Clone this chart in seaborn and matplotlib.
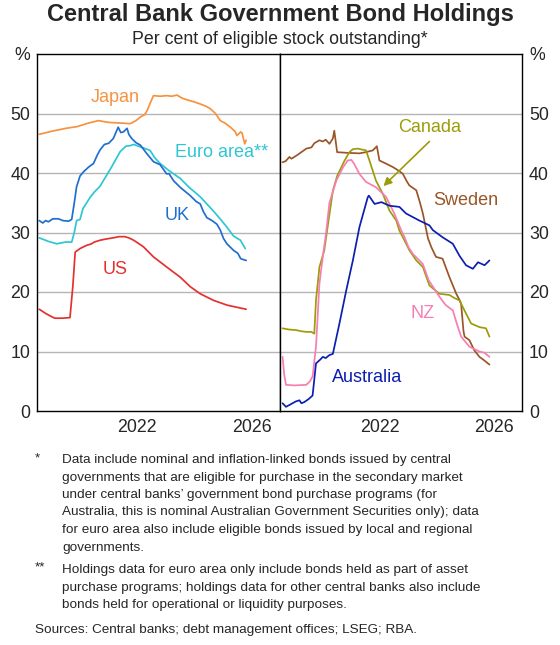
import matplotlib
matplotlib.use("Agg")
import matplotlib.pyplot as plt
import pandas as pd
import seaborn as sns

sns.set_theme(style="white")
plt.rcParams['font.family'] = ['Liberation Sans', 'DejaVu Sans']

# ---- data (per cent of eligible stock) ----
japan_x = [2019.08, 2019.5, 2020.0, 2020.4, 2020.8, 2021.14, 2021.5, 2021.9, 2022.25, 2022.45,
           2022.6, 2022.75, 2022.84, 2022.95, 2023.06, 2023.3, 2023.52, 2023.7, 2023.88, 2024.05,
           2024.22, 2024.45, 2024.69, 2024.9, 2025.04, 2025.22, 2025.39, 2025.55, 2025.74, 2025.9,
           2025.97, 2026.1, 2026.15, 2026.24, 2026.29]
japan_y = [46.5, 47.0, 47.5, 47.8, 48.4, 48.8, 48.5, 48.4, 48.3, 48.8,
           49.4, 49.8, 50.5, 51.8, 53.0, 52.9, 53.0, 52.9, 53.1, 52.6,
           52.3, 52.0, 51.6, 51.2, 50.8, 50.0, 48.8, 48.4, 47.7, 47.0,
           46.3, 46.9, 46.7, 44.9, 45.5]

uk_x = [2019.08, 2019.2, 2019.3, 2019.4, 2019.55, 2019.75, 2019.9, 2020.1, 2020.21, 2020.3,
        2020.38, 2020.5, 2020.62, 2020.8, 2020.97, 2021.1, 2021.2, 2021.35, 2021.5, 2021.66,
        2021.83, 2021.92, 2022.01, 2022.14, 2022.2, 2022.3, 2022.45, 2022.6, 2022.82, 2023.06,
        2023.29, 2023.52, 2023.6, 2023.76, 2023.99, 2024.34, 2024.55, 2024.69, 2024.8, 2024.92,
        2025.1, 2025.27, 2025.39, 2025.5, 2025.62, 2025.85, 2026.0, 2026.1, 2026.29]
uk_y = [32.0, 31.6, 32.0, 31.8, 32.3, 32.3, 32.0, 31.9, 32.2, 35.0,
        37.7, 39.5, 40.2, 41.0, 41.6, 43.0, 43.9, 44.8, 45.0, 45.8,
        47.7, 46.8, 46.9, 47.5, 46.5, 45.8, 45.1, 44.7, 43.3, 41.9,
        41.4, 39.85, 39.9, 38.7, 37.6, 36.2, 35.2, 34.8, 33.5, 32.5,
        32.0, 31.4, 30.4, 29.0, 28.1, 27.0, 26.5, 25.6, 25.3]

euro_x = [2019.08, 2019.4, 2019.69, 2020.0, 2020.21, 2020.3, 2020.38, 2020.5, 2020.6, 2020.85,
          2021.0, 2021.2, 2021.35, 2021.55, 2021.75, 2021.9, 2022.1, 2022.25, 2022.37, 2022.6,
          2022.94, 2023.1, 2023.29, 2023.6, 2023.99, 2024.3, 2024.69, 2024.9, 2025.15, 2025.4,
          2025.62, 2025.85, 2026.09, 2026.26]
euro_y = [29.1, 28.5, 28.1, 28.4, 28.4, 30.0, 32.0, 32.2, 34.0, 35.9,
          36.8, 37.8, 39.0, 40.6, 42.3, 43.6, 44.5, 44.6, 44.8, 44.4,
          43.8, 42.6, 41.6, 40.4, 39.1, 37.6, 36.0, 34.9, 33.6, 32.2,
          30.9, 29.4, 28.7, 27.3]

us_x = [2019.08, 2019.3, 2019.45, 2019.62, 2019.9, 2020.15, 2020.25, 2020.33, 2020.5, 2020.71,
        2020.9, 2021.0, 2021.2, 2021.4, 2021.66, 2021.85, 2022.06, 2022.2, 2022.37, 2022.71,
        2023.06, 2023.52, 2023.99, 2024.34, 2024.69, 2025.15, 2025.62, 2026.0, 2026.29]
us_y = [17.1, 16.4, 16.0, 15.6, 15.6, 15.7, 21.0, 26.7, 27.3, 27.8,
        28.1, 28.4, 28.7, 28.9, 29.1, 29.3, 29.3, 29.1, 28.7, 27.6,
        25.9, 24.2, 22.5, 20.9, 19.7, 18.6, 17.8, 17.4, 17.1]

sweden_x = [2019.09, 2019.2, 2019.33, 2019.4, 2019.6, 2019.92, 2020.1, 2020.2, 2020.38, 2020.5,
            2020.6, 2020.73, 2020.85, 2020.9, 2021.0, 2021.32, 2021.78, 2022.0, 2022.25, 2022.39,
            2022.48, 2022.7, 2022.95, 2023.15, 2023.3, 2023.45, 2023.53, 2023.77, 2023.9, 2024.0,
            2024.18, 2024.3, 2024.46, 2024.69, 2024.93, 2025.17, 2025.3, 2025.34, 2025.42, 2025.46,
            2025.63, 2025.8, 2025.98, 2026.15, 2026.33]
sweden_y = [41.8, 42.0, 42.7, 42.4, 43.0, 44.1, 44.3, 45.0, 45.5, 45.3,
            45.6, 44.9, 45.8, 47.1, 43.5, 43.4, 43.3, 43.5, 43.8, 44.5,
            42.1, 41.6, 41.0, 40.4, 39.85, 38.5, 37.9, 37.1, 35.0, 33.2,
            29.0, 27.5, 25.9, 25.6, 22.5, 19.7, 18.5, 18.0, 13.5, 12.5,
            11.9, 10.2, 9.1, 8.5, 7.8]

canada_x = [2019.09, 2019.3, 2019.56, 2019.75, 2019.92, 2020.1, 2020.2, 2020.26, 2020.38, 2020.55,
            2020.73, 2020.85, 2021.0, 2021.25, 2021.43, 2021.55, 2021.72, 2022.01, 2022.13, 2022.36,
            2022.6, 2022.83, 2023.07, 2023.18, 2023.3, 2023.53, 2023.77, 2024.0, 2024.23, 2024.58,
            2024.93, 2025.1, 2025.28, 2025.51, 2025.69, 2025.98, 2026.21, 2026.33]
canada_y = [13.9, 13.7, 13.6, 13.4, 13.3, 13.3, 13.0, 18.6, 24.2, 27.0,
            33.0, 37.0, 39.5, 42.0, 43.5, 44.0, 44.1, 43.8, 42.1, 38.7,
            36.5, 33.7, 32.0, 30.3, 29.2, 27.0, 25.3, 24.2, 21.1, 19.7,
            19.5, 19.0, 18.6, 16.4, 14.7, 14.1, 13.9, 12.5]

nz_x = [2019.09, 2019.15, 2019.21, 2019.5, 2019.92, 2020.05, 2020.14, 2020.26, 2020.38, 2020.5,
        2020.61, 2020.73, 2020.97, 2021.2, 2021.37, 2021.5, 2021.6, 2021.78, 2022.01, 2022.36,
        2022.71, 2023.0, 2023.24, 2023.36, 2023.5, 2023.65, 2024.0, 2024.2, 2024.35, 2024.58,
        2024.8, 2025.05, 2025.2, 2025.34, 2025.63, 2025.98, 2026.15, 2026.33]
nz_y = [9.1, 6.0, 4.4, 4.3, 4.4, 5.0, 5.8, 10.8, 21.4, 26.0,
        29.8, 35.0, 38.7, 40.9, 42.1, 42.2, 41.5, 39.85, 38.5, 37.6,
        36.0, 33.2, 30.4, 29.2, 27.5, 26.4, 24.7, 22.0, 20.9, 19.2,
        17.8, 16.9, 14.5, 12.5, 10.8, 10.0, 9.8, 9.1]

aus_x = [2019.09, 2019.21, 2019.4, 2019.55, 2019.68, 2019.75, 2019.85, 2020.0, 2020.14, 2020.26,
         2020.4, 2020.5, 2020.6, 2020.73, 2020.85, 2021.08, 2021.32, 2021.55, 2021.78, 2022.07,
         2022.11, 2022.31, 2022.55, 2022.83, 2023.18, 2023.41, 2023.88, 2024.1, 2024.23, 2024.35,
         2024.69, 2025.05, 2025.28, 2025.51, 2025.75, 2025.93, 2026.16, 2026.33]
aus_y = [1.3, 0.7, 1.2, 1.6, 1.8, 1.3, 1.5, 2.0, 2.6, 8.0,
         8.6, 9.1, 8.9, 9.4, 9.6, 14.7, 20.3, 25.3, 30.9, 35.9,
         36.2, 34.8, 35.1, 34.5, 34.3, 33.2, 32.0, 31.5, 31.2, 30.4,
         29.2, 28.1, 26.1, 24.5, 23.9, 25.0, 24.5, 25.3]

left_series = [("Japan", japan_x, japan_y, "#f7923f"),
               ("Euro area", euro_x, euro_y, "#2ec6d3"),
               ("UK", uk_x, uk_y, "#1f6fd0"),
               ("US", us_x, us_y, "#e3312f")]
right_series = [("Sweden", sweden_x, sweden_y, "#9a5528"),
                ("Canada", canada_x, canada_y, "#9c9c0a"),
                ("NZ", nz_x, nz_y, "#f57fb0"),
                ("Australia", aus_x, aus_y, "#0b1fb0")]

year_ticks = [2020, 2021, 2022, 2023, 2024, 2025, 2026, 2027]
label_years = [2022, 2026]
y_ticks = [0, 10, 20, 30, 40, 50, 60]
y_labels = ["0", "10", "20", "30", "40", "50", "%"]

note1 = ["Data include nominal and inflation-linked bonds issued by central",
         "governments that are eligible for purchase in the secondary market",
         "under central banks\u2019 government bond purchase programs (for",
         "Australia, this is nominal Australian Government Securities only); data",
         "for euro area also include eligible bonds issued by local and regional",
         "governments."]
note2 = ["Holdings data for euro area only include bonds held as part of asset",
         "purchase programs; holdings data for other central banks also include",
         "bonds held for operational or liquidity purposes."]
sources = "Sources: Central banks; debt management offices; LSEG; RBA."

fig = plt.figure(figsize=(5.6, 6.45), dpi=100)
ax1 = fig.add_axes([37 / 560, 1 - 411 / 645, 243 / 560, 357 / 645])
ax2 = fig.add_axes([280 / 560, 1 - 411 / 645, 242 / 560, 357 / 645])


def draw(ax, series):
    for name, xs, ys, col in series:
        df = pd.DataFrame({"year": xs, "value": ys})
        sns.lineplot(data=df, x="year", y="value", ax=ax, color=col, lw=1.25)
    ax.set_xlim(2019.0, 2027.47)
    ax.set_ylim(0, 60)
    ax.set_xlabel("")
    ax.set_ylabel("")
    ax.set_yticks(y_ticks)
    ax.set_yticklabels(y_labels)
    for v in y_ticks[1:-1]:
        ax.axhline(v, color="#b5b5b5", lw=1.0, zorder=0)
    ax.set_xticks(year_ticks)
    ax.set_xticklabels([])
    ax.set_xticks([y + 0.5 for y in label_years], minor=True)
    ax.set_xticklabels([str(y) for y in label_years], minor=True)
    ax.tick_params(axis="x", which="major", direction="in", length=5, width=1, color="black")
    ax.tick_params(axis="x", which="minor", length=0, pad=6, labelsize=12.8)
    ax.tick_params(axis="y", length=0, labelsize=12.8, pad=5)
    for s in ax.spines.values():
        s.set_color("black")
        s.set_linewidth(1.0)


draw(ax1, left_series)
draw(ax2, right_series)
ax2.yaxis.tick_right()
ax2.tick_params(axis="y", length=0, pad=5)

fs = 13
ax1.text(2021.72, 52.7, "Japan", color="#f7923f", fontsize=fs, ha="center", va="center")
ax1.text(2023.82, 43.5, "Euro area**", color="#2ec6d3", fontsize=fs, ha="left", va="center")
ax1.text(2023.89, 32.9, "UK", color="#1f6fd0", fontsize=fs, ha="center", va="center")
ax1.text(2021.72, 23.8, "US", color="#e3312f", fontsize=fs, ha="center", va="center")
ax2.text(2024.23, 47.6, "Canada", color="#9c9c0a", fontsize=fs, ha="center", va="center")
ax2.text(2025.5, 35.4, "Sweden", color="#9a5528", fontsize=fs, ha="center", va="center")
ax2.text(2023.98, 16.4, "NZ", color="#f57fb0", fontsize=fs, ha="center", va="center")
ax2.text(2022.06, 5.7, "Australia", color="#0b1fb0", fontsize=fs, ha="center", va="center")
ax2.annotate("", xy=(2022.62, 37.8), xytext=(2024.23, 45.3),
             arrowprops=dict(arrowstyle="-|>", color="#9c9c0a", lw=1.2,
                             mutation_scale=12, shrinkA=0, shrinkB=0))

fig.text(0.5, 1 - 14 / 645, "Central Bank Government Bond Holdings",
         fontsize=17, fontweight="bold", ha="center", va="center")
fig.text(0.5, 1 - 39 / 645, "Per cent of eligible stock outstanding*",
         fontsize=12.8, ha="center", va="center")

# footnotes, one line at a time (17.5 px line pitch as in the reference)
fn = 9.7
fig.text(35 / 560, 1 - 458 / 645, "*", fontsize=fn, ha="left", va="center")
for i, line in enumerate(note1):
    fig.text(62 / 560, 1 - (460 + 17.5 * i) / 645, line, fontsize=fn, ha="left", va="center")
fig.text(35 / 560, 1 - 567 / 645, "**", fontsize=fn, ha="left", va="center")
for i, line in enumerate(note2):
    fig.text(62 / 560, 1 - (570 + 17.7 * i) / 645, line, fontsize=fn, ha="left", va="center")
fig.text(35 / 560, 1 - 630 / 645, sources, fontsize=fn, ha="left", va="center")

fig.savefig("out.png", dpi=100)
